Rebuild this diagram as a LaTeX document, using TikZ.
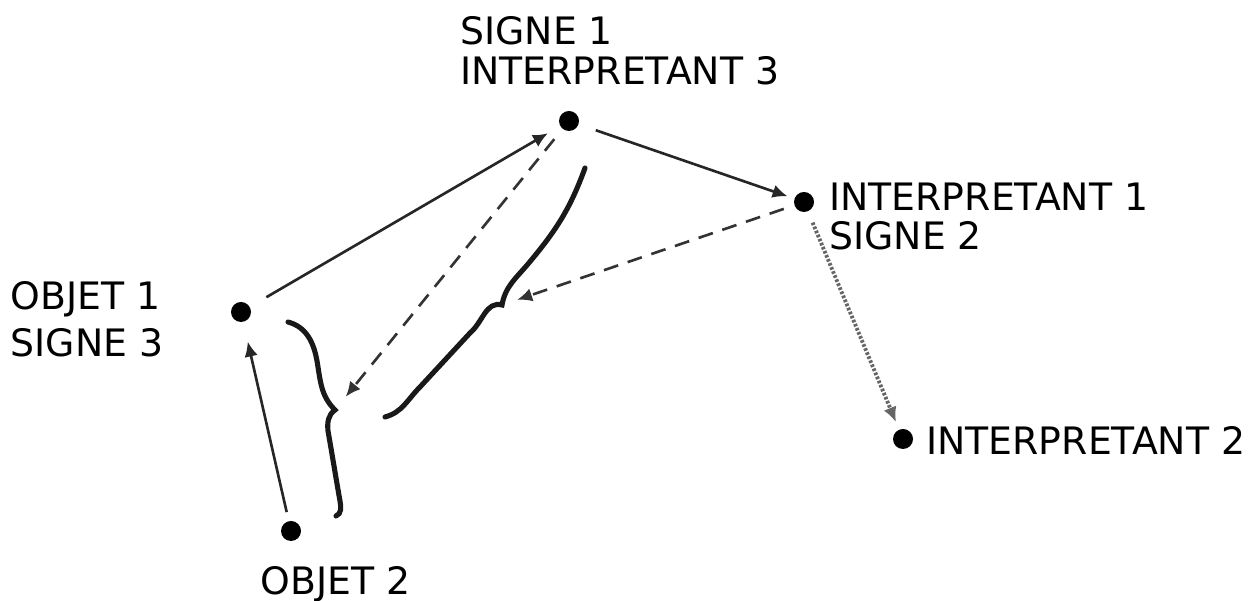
\documentclass[tikz,border=0pt]{standalone}
\usepackage{fontspec}
\setmainfont{DejaVu Sans}
\usepackage{tikz}
\usetikzlibrary{positioning, arrows.meta}
\tikzset{
  pt/.style={circle, fill=black, inner sep=0pt, minimum size=0.4cm},
  lab/.style={anchor=north west, inner sep=0pt, align=left, font=\fontsize{21.5}{22.5}\selectfont},
  tip/.style={-{Latex[length=0.3cm, width=0.27cm]}},
  arr/.style={tip, line width=1.5pt, black!85},
  darr/.style={tip, line width=1.5pt, black!80, dash pattern=on 0.3cm off 0.2cm},
  garr/.style={tip, line width=2.2pt, black!60, dash pattern=on 1.5pt off 1pt},
  brc/.style={line width=2.9pt, line cap=round, black!90}
}

\begin{document}
\begin{tikzpicture}
\useasboundingbox (0,0) rectangle (25,12.02);
% the points
\node[pt] (s1) at (11.38,9.60) {};
\node[pt] (i1) at (16.08,7.98) {};
\node[pt] (o1) at (4.82,5.78) {};
\node[pt] (o2) at (5.82,1.40) {};
\node[pt] (i2) at (18.06,3.24) {};
% labels
\node[lab] (ls1) at (9.20,11.69) {SIGNE 1\\INTERPRETANT 3};
\node[lab] (li1) at (16.58,8.37) {INTERPRETANT 1\\SIGNE 2};
\node[lab] (lo1) at (0.21,6.39) {OBJET 1\\[4pt]SIGNE 3};
\node[lab] (lo2) at (5.21,0.70) {OBJET 2};
\node[lab] (li2) at (18.52,3.49) {INTERPRETANT 2};
% braces
\coordinate (tipa) at (6.70,3.82);
\coordinate (tipb) at (10.04,5.92);
\draw[brc] (5.76,5.58) to[out=-15,in=100] (6.34,4.80) to[out=-80,in=135] (tipa)
  to[out=215,in=95] (6.56,3.40) to[out=-80,in=100] (6.80,2.00) to[out=-80,in=20] (6.72,1.70);
\draw[brc] (11.70,8.66) to[out=-110,in=50] (10.56,6.74) to[out=230,in=80] (tipb)
  to[out=165,in=40] (9.40,5.36) -- (8.40,4.28) to[out=225,in=15] (7.70,3.68);
% arrows
\draw[arr, shorten <=0.38cm, shorten >=0.28cm] (o1) -- (s1);
\draw[arr, shorten <=0.36cm, shorten >=0.14cm] (s1) -- (i1);
\draw[arr, shorten <=0.18cm, shorten >=0.40cm] (o2) -- (o1);
\draw[garr, shorten <=0.24cm, shorten >=0.16cm] (i1) -- (i2); % grey dotted one
\draw[darr, shorten <=0.26cm, shorten >=0.34cm] (s1) -- (tipa);
\draw[darr, shorten <=0.22cm, shorten >=0.32cm] (i1) -- (tipb);
\end{tikzpicture}
\end{document}
